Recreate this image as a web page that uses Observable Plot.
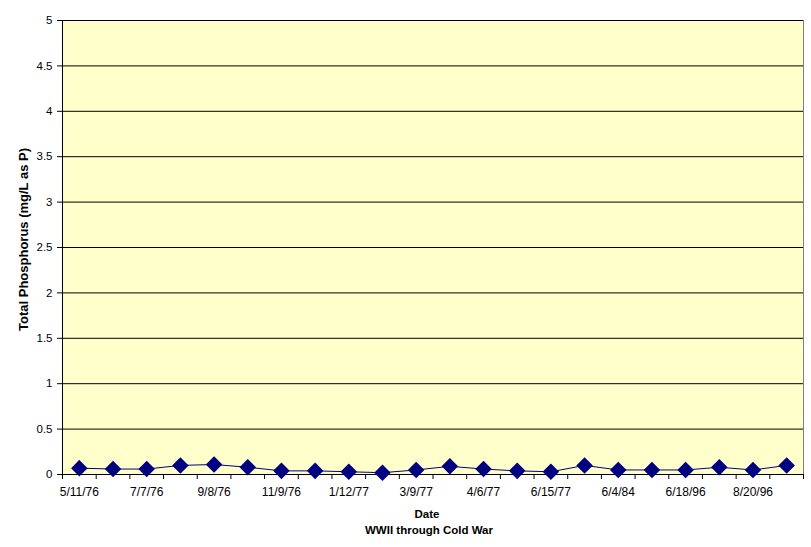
<!DOCTYPE html>
<html>
<head>
<meta charset="utf-8">
<script src="https://cdn.jsdelivr.net/npm/d3@7"></script>
<script src="https://cdn.jsdelivr.net/npm/@observablehq/plot@0.6"></script>
<style>
  html, body { margin: 0; padding: 0; background: #ffffff; }
  #chart { width: 811px; height: 547px; }
  svg { font-family: "Liberation Sans", Arial, sans-serif; }
</style>
</head>
<body>
<div id="chart"></div>
<script>
// Tick labels shown under every other category
const tickLabels = ["5/11/76", "7/7/76", "9/8/76", "11/9/76", "1/12/77", "3/9/77", "4/6/77", "6/15/77", "6/4/84", "6/18/96", "8/20/96"];
// Total phosphorus readings (mg/L as P), one per sample, in order
const phosphorus = [0.07, 0.06, 0.06, 0.10, 0.11, 0.08, 0.04, 0.04, 0.03, 0.02, 0.05, 0.09, 0.06, 0.04, 0.03, 0.10, 0.05, 0.05, 0.05, 0.08, 0.05, 0.10];
const yTicks = [0, 0.5, 1, 1.5, 2, 2.5, 3, 3.5, 4, 4.5, 5];

const n = phosphorus.length;
const data = phosphorus.map((v, i) => ({pos: i + 0.5, value: v}));
const boundaries = d3.range(0, n + 1);
const labelPositions = tickLabels.map((_, k) => 2 * k + 0.5);

const chart = Plot.plot({
  width: 811,
  height: 547,
  marginLeft: 62,
  marginRight: 8,
  marginTop: 20,
  marginBottom: 73,
  style: {fontFamily: "'Liberation Sans', Arial, sans-serif", fontSize: "11px", color: "#000", background: "#fff"},
  x: {type: "linear", domain: [0, n], axis: null},
  y: {domain: [0, 5], axis: null},
  marks: [
    Plot.frame({fill: "#FFFFCC", stroke: "#808080"}),
    Plot.ruleY(yTicks, {stroke: "#000", strokeWidth: 1}),
    Plot.ruleX([0], {stroke: "#000", strokeWidth: 1}),
    Plot.axisY({ticks: yTicks, tickSize: 5, tickPadding: 5, tickFormat: d => String(d), label: null, stroke: "#000", fontSize: 11.5}),
    Plot.axisX({ticks: boundaries, tickSize: 5, tickFormat: () => "", label: null, stroke: "#000"}),
    Plot.axisX({ticks: labelPositions, tickSize: 0, tickPadding: 13, tickFormat: (d, i) => tickLabels[i], label: null, fontSize: 12}),
    Plot.line(data, {x: "pos", y: "value", stroke: "#000080", strokeWidth: 1}),
    Plot.dot(data, {x: "pos", y: "value", symbol: "diamond2", r: 6.5, fill: "#000080", stroke: "#000080"}),
    Plot.text(["Date"], {frameAnchor: "bottom", dx: -6, dy: 43, fontWeight: "bold", fontSize: 11.5, fill: "#000"}),
    Plot.text(["WWII through Cold War"], {frameAnchor: "bottom", dx: -4, dy: 59, fontWeight: "bold", fontSize: 11.5, fill: "#000"}),
    Plot.text(["Total Phosphorus (mg/L as P)"], {frameAnchor: "left", textAnchor: "middle", dx: -39, dy: -8, rotate: -90, fontWeight: "bold", fontSize: 13, fill: "#000"})
  ]
});
document.getElementById("chart").appendChild(chart);
</script>
</body>
</html>
